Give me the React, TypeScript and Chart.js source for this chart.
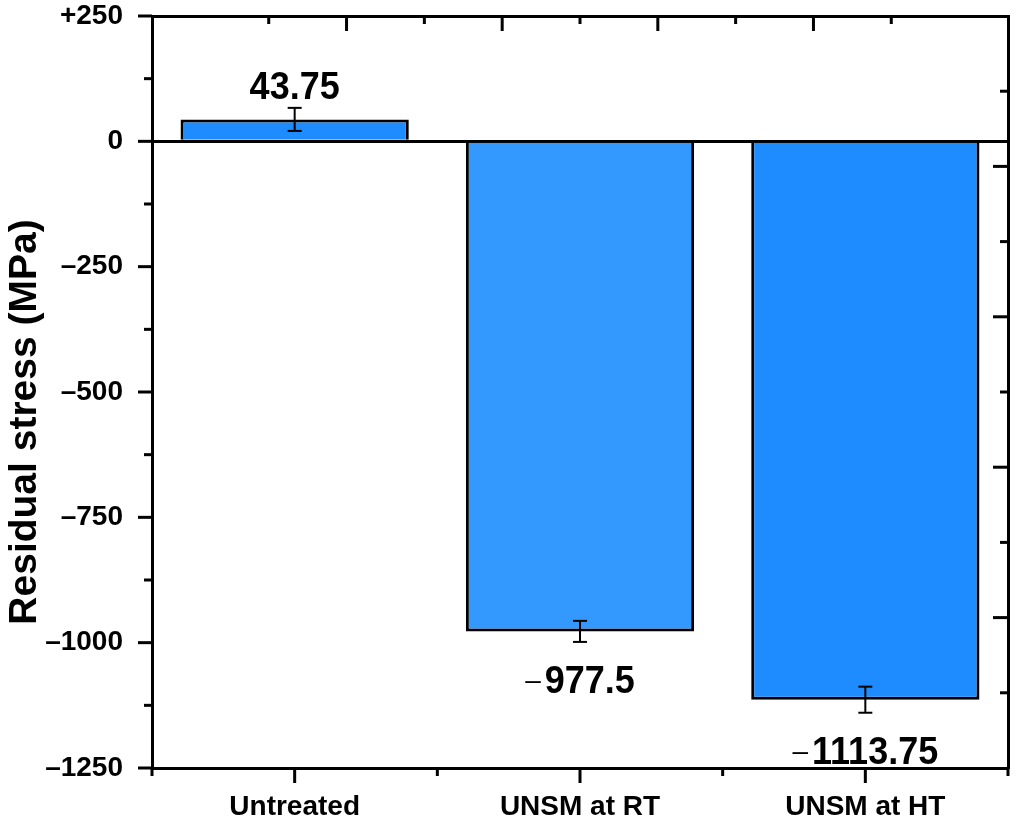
import React, { useEffect, useRef } from 'react';
import { Chart, registerables } from 'chart.js';

Chart.register(...registerables);

const categories = ['Untreated', 'UNSM at RT', 'UNSM at HT'];
const stressValues = [43.75, -977.5, -1113.75];
const stressErrors = [23, 21, 26];
const barColors = ['#1E8CFF', '#3399FF', '#1E8CFF'];
const yMin = -1250;
const yMax = 250;
const yMajorStep = 250;
const yMinorStep = 125;
const axisTitle = 'Residual stress (MPa)';

const FONT = "'Liberation Sans', Arial, sans-serif";

function fmtTick(v: number): string {
  if (v > 0) return '+' + v;
  if (v < 0) return '\u2013' + Math.abs(v);
  return '0';
}

function line(ctx: CanvasRenderingContext2D, x1: number, y1: number, x2: number, y2: number) {
  ctx.beginPath();
  ctx.moveTo(x1, y1);
  ctx.lineTo(x2, y2);
  ctx.stroke();
}

function stretchedText(ctx: CanvasRenderingContext2D, text: string, x: number, y: number, sy: number) {
  ctx.save();
  ctx.translate(x, y);
  ctx.scale(1, sy);
  ctx.fillText(text, 0, 0);
  ctx.restore();
}

const decorPlugin = {
  id: 'decor',
  afterDatasetsDraw(chart: any) {
    const ctx: CanvasRenderingContext2D = chart.ctx;
    const y = chart.scales.y;
    const meta = chart.getDatasetMeta(0);
    ctx.save();
    ctx.strokeStyle = '#000';
    ctx.fillStyle = '#000';
    stressValues.forEach((v, i) => {
      const x = meta.data[i].x;
      const e = stressErrors[i];
      const yt = y.getPixelForValue(v + e);
      const yb = y.getPixelForValue(v - e);
      ctx.lineWidth = 2;
      line(ctx, x, yt, x, yb);
      line(ctx, x - 7, yt, x + 7, yt);
      line(ctx, x - 7, yb, x + 7, yb);

      const neg = v < 0;
      const digits = Math.abs(v).toString();
      const base = neg ? yb + 51 : yt - 9;
      ctx.font = `bold 36px ${FONT}`;
      const dw = ctx.measureText(digits).width;
      ctx.font = `28px ${FONT}`;
      const sw = neg ? ctx.measureText('\u2013').width + 4 : 0;
      const x0 = x - (dw + sw) / 2;
      ctx.textAlign = 'left';
      ctx.textBaseline = 'alphabetic';
      if (neg) {
        ctx.font = `28px ${FONT}`;
        ctx.fillText('\u2013', x0, base - 4);
      }
      ctx.font = `bold 36px ${FONT}`;
      stretchedText(ctx, digits, x0 + sw, base, 1.1);
    });
    ctx.restore();
  },
  afterDraw(chart: any) {
    const ctx: CanvasRenderingContext2D = chart.ctx;
    const { x, y, x2, y2 } = chart.scales;
    const area = chart.chartArea;
    ctx.save();
    ctx.strokeStyle = '#000';
    ctx.lineWidth = 3;
    ctx.lineCap = 'butt';
    // left ticks (outward)
    for (let v = yMin; v <= yMax; v += yMinorStep) {
      const p = y.getPixelForValue(v);
      const len = v % yMajorStep === 0 ? 14 : 8;
      line(ctx, area.left - len, p, area.left, p);
    }
    // bottom ticks (outward)
    for (let i = 0; i < categories.length; i++) {
      const p = x.getPixelForValue(i);
      line(ctx, p, area.bottom, p, area.bottom + 15);
    }
    for (let i = 0; i <= categories.length; i++) {
      const p = x.getPixelForValue(i - 0.5);
      line(ctx, p, area.bottom, p, area.bottom + 8);
    }
    // top ticks (inward)
    for (let k = 1; k < 10; k++) {
      const p = x2.getPixelForValue(k);
      const len = k % 2 === 0 ? 15 : 8;
      line(ctx, p, area.top, p, area.top + len);
    }
    // right ticks (inward)
    for (let k = 1; k < 10; k++) {
      const p = y2.getPixelForValue(k);
      const len = k % 2 === 0 ? 15 : 8;
      line(ctx, area.right - len, p, area.right, p);
    }
    // y axis title
    ctx.translate(25, 422);
    ctx.rotate(-Math.PI / 2);
    ctx.fillStyle = '#000';
    ctx.font = `bold 39px ${FONT}`;
    ctx.textAlign = 'center';
    ctx.textBaseline = 'middle';
    ctx.fillText(axisTitle, 0, 0);
    ctx.restore();
  },
};

const frame = { display: true, color: '#000', width: 3 };

function noPad(s: any) {
  s.paddingTop = 0;
  s.paddingBottom = 0;
  s.paddingLeft = 0;
  s.paddingRight = 0;
}

export default function App() {
  const ref = useRef<HTMLCanvasElement | null>(null);
  useEffect(() => {
    if (!ref.current) return;
    const chart = new Chart(ref.current, {
      type: 'bar',
      data: {
        labels: categories,
        datasets: [
          {
            data: stressValues,
            backgroundColor: barColors,
            borderColor: '#000',
            borderWidth: 3,
            borderSkipped: 'start',
            barPercentage: 0.8,
            categoryPercentage: 1,
          },
        ],
      },
      options: {
        responsive: false,
        animation: false,
        devicePixelRatio: 1,
        layout: { padding: 0 },
        plugins: { legend: { display: false }, tooltip: { enabled: false }, title: { display: false } },
        scales: {
          x: {
            type: 'category',
            position: 'bottom',
            offset: true,
            grid: { display: false, drawTicks: false },
            border: frame,
            ticks: {
              color: '#000',
              font: { family: FONT, size: 28, weight: 'bold' },
              padding: 22,
              maxRotation: 0,
              autoSkip: false,
            },
            afterFit: (s: any) => {
              s.height = 58;
              noPad(s);
            },
          },
          x2: {
            type: 'linear',
            position: 'top',
            min: 0,
            max: 10,
            grid: { display: false, drawTicks: false },
            border: frame,
            ticks: { display: false },
            afterFit: (s: any) => {
              s.height = 16;
              noPad(s);
            },
          },
          y: {
            type: 'linear',
            position: 'left',
            min: yMin,
            max: yMax,
            grid: {
              display: true,
              drawTicks: false,
              lineWidth: 3,
              color: (c: any) => (c.tick && c.tick.value === 0 ? '#000' : 'rgba(0,0,0,0)'),
            },
            border: frame,
            ticks: {
              stepSize: yMajorStep,
              color: '#000',
              font: { family: FONT, size: 28, weight: 'bold' },
              padding: 29,
              callback: (v: any) => fmtTick(Number(v)),
            },
            afterFit: (s: any) => {
              s.width = 152;
              noPad(s);
            },
          },
          y2: {
            type: 'linear',
            position: 'right',
            min: 0,
            max: 10,
            grid: { display: false, drawTicks: false },
            border: frame,
            ticks: { display: false },
            afterFit: (s: any) => {
              s.width = 11;
              noPad(s);
            },
          },
        },
      } as any,
      plugins: [decorPlugin],
    });
    return () => chart.destroy();
  }, []);
  return (
    <div style={{ position: 'absolute', left: 0, top: 0, width: 1019, height: 826, background: '#fff' }}>
      <canvas ref={ref} width={1019} height={826} style={{ display: 'block' }} />
    </div>
  );
}
